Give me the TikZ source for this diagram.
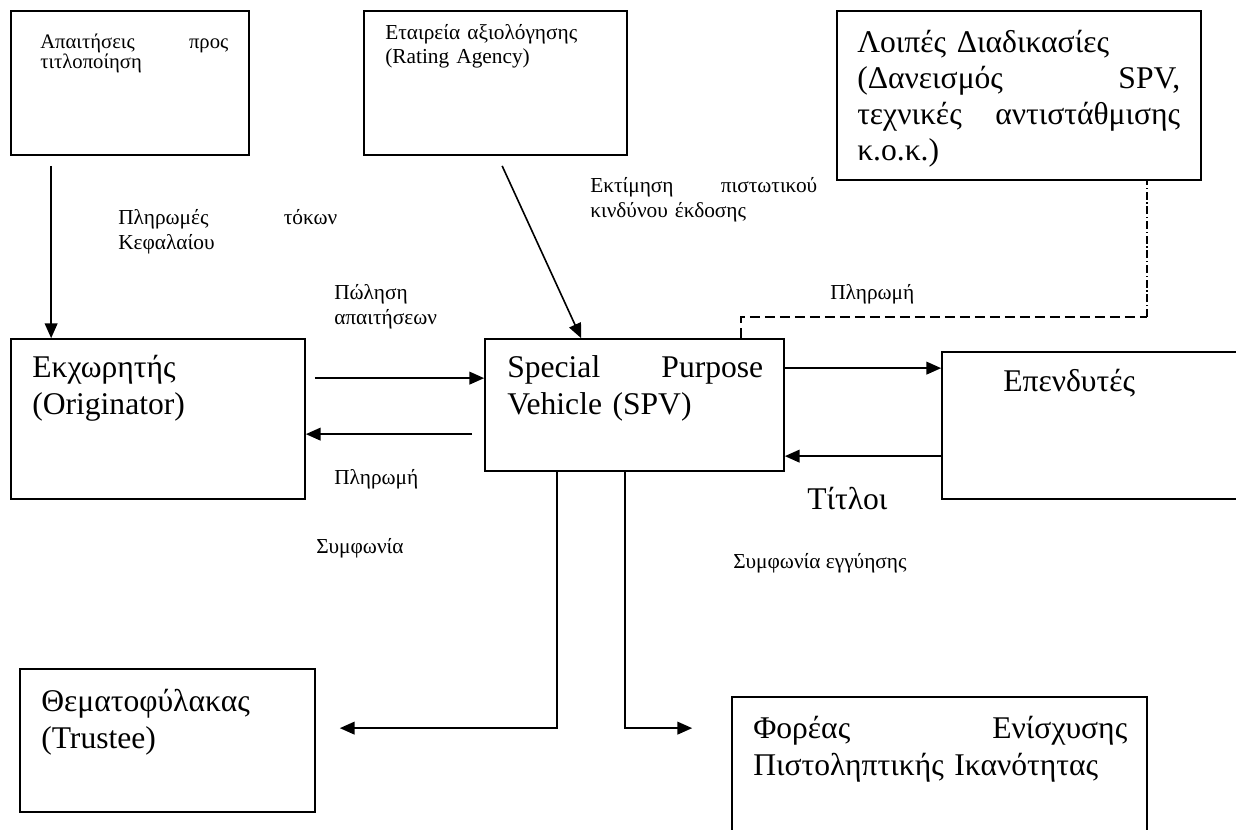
\documentclass[tikz,border=0pt]{standalone}
\usepackage{fontspec}
\setmainfont{Liberation Serif}
\usetikzlibrary{arrows.meta,fit}

\tikzset{
  box/.style={draw, line width=1.3pt, inner sep=0pt},
  txt/.style={inner sep=0pt, anchor=base west, align=left},
  big/.style={txt, font=\fontsize{23.7}{27.75}\selectfont},
  small/.style={txt, font=\fontsize{16}{18.75}\selectfont},
  arr/.style={line width=1.2pt, -{Triangle[length=11pt,width=9.5pt]}},
  flow/.style={line width=1.2pt},
}

\begin{document}
\begin{tikzpicture}[x=0.75pt, y=-0.75pt]
  \clip (0,0) rectangle (1236,830);
  % boxes
  \node[box, fit={(11,11) (249,155)}]    (claims)  {};
  \node[box, fit={(364,11) (627,155)}]   (rating)  {};
  \node[box, fit={(837,11) (1201,180)}]  (other)   {};
  \node[box, fit={(11,339) (305,499)}]   (orig)    {};
  \node[box, fit={(485,339) (784,471)}]  (spv)     {};
  \node[box, fit={(942,352) (1250,499)}] (inv)     {};
  \node[box, fit={(20,669) (315,812)}]   (trustee) {};
  \node[box, fit={(732,697) (1147,850)}] (enh)     {};

  % texts in the boxes
  \node[txt, font=\fontsize{15.5}{14.5}\selectfont, text width=141pt] (claimst) at (40,49)
    {Απαιτήσεις\hfill προς\\τιτλοποίηση};
  \node[txt, font=\fontsize{16}{18}\selectfont, text width=180pt] (ratingt) at (385,40)
    {Εταιρεία αξιολόγησης\\(Rating Agency)};
  \node[big, font=\fontsize{23.7}{27}\selectfont, text width=242.25pt] (othert) at (857,53)
    {Λοιπές Διαδικασίες\\(Δανεισμός\hfill SPV,\\τεχνικές\hfill αντιστάθμισης\\κ.ο.κ.)};
  \node[big, text width=190pt] (origt) at (32,378) {Εκχωρητής\\(Originator)};
  \node[big, text width=192pt] (spvt) at (507,378) {Special\hfill Purpose\\Vehicle (SPV)};
  \node[big] (invt) at (1003,392) {Επενδυτές};
  \node[big, text width=200pt] (trusteet) at (41,711) {Θεματοφύλακας\\(Trustee)};
  \node[big, text width=280.5pt] (enht) at (753,738)
    {Φορέας\hfill Ενίσχυσης\\Πιστοληπτικής Ικανότητας};

  % labels
  \node[small, text width=164.25pt] (pay1) at (118,225) {Πληρωμές\hfill τόκων\\Κεφαλαίου};
  \node[small, text width=120pt] (sale) at (334,300) {Πώληση\\απαιτήσεων};
  \node[small] (pay2) at (334,485) {Πληρωμή};
  \node[small] (agr1) at (316,553) {Συμφωνία};
  \node[small, text width=170.25pt] (risk) at (590,193) {Εκτίμηση\hfill πιστωτικού\\κινδύνου έκδοσης};
  \node[small] (pay3) at (830,300) {Πληρωμή};
  \node[small] (agr2) at (733,568) {Συμφωνία εγγύησης};
  \node[big] (titles) at (807,510) {Τίτλοι};

  % connectors
  \draw[arr] ([shift={(41,10)}]claims.south west) -- ([shift={(41,0)}]orig.north west);
  \draw[arr] ([shift={(139,10)}]rating.south west) -- ([shift={(97,0)}]spv.north west);
  \draw[arr] ([shift={(9,40)}]orig.north east) -- ([shift={(0,40)}]spv.north west);
  \draw[arr] ([shift={(-12,96)}]spv.north west) -- ([shift={(0,96)}]orig.north east);
  \draw[arr] ([shift={(0,30)}]spv.north east) -- ([shift={(0,17)}]inv.north west);
  \draw[arr] ([shift={(0,105)}]inv.north west) -- ([shift={(0,118)}]spv.north east);
  \coordinate (turn) at ([shift={(311,136)}]other.south west);
  \draw[flow, dash pattern=on 7.5pt off 3.75pt] ([shift={(257,0)}]spv.north west) |- (turn);
  \draw[flow, line width=1pt, dash pattern=on 6pt off 2pt on 1pt off 2pt]
    (turn) -- ([shift={(311,0)}]other.south west);
  \draw[arr] ([shift={(73,0)}]spv.south west) |- ([shift={(24,60)}]trustee.north east);
  \draw[arr] ([shift={(141,0)}]spv.south west) |- ([shift={(-39,32)}]enh.north west);
\end{tikzpicture}
\end{document}
